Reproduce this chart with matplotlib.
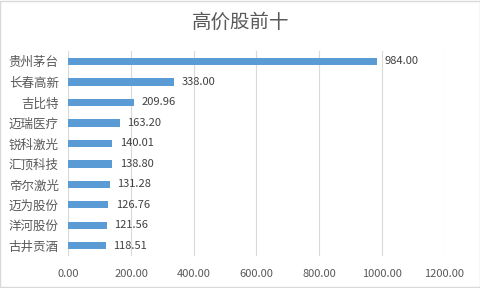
import matplotlib.pyplot as plt
from matplotlib.patches import Rectangle

plt.rcParams['font.family'] = ['Noto Sans CJK SC', 'DejaVu Sans']

stocks = ['贵州茅台', '长春高新', '吉比特', '迈瑞医疗', '锐科激光',
          '汇顶科技', '帝尔激光', '迈为股份', '洋河股份', '古井贡酒']
prices = [984.00, 338.00, 209.96, 163.20, 140.01,
          138.80, 131.28, 126.76, 121.56, 118.51]
xticks = [0, 200, 400, 600, 800, 1000, 1200]

fig = plt.figure(figsize=(4.81, 2.88), dpi=100)
ax = fig.add_axes([0.1424, 0.111, 0.7817, 0.7115])

ypos = list(range(len(stocks)))
ax.barh(ypos, prices, height=0.36, color='#5B9BD5', zorder=3)
for y, v in zip(ypos, prices):
    ax.annotate(f'{v:.2f}', (v, y), xytext=(5.5, 0), textcoords='offset points',
                va='center', ha='left', fontsize=8, color='#404040')

ax.set_xlim(0, 1200)
ax.set_ylim(len(stocks) - 0.5, -0.5)
ax.set_xticks(xticks)
ax.set_xticklabels([f'{t:.2f}' for t in xticks])
ax.set_yticks(ypos)
ax.set_yticklabels(stocks, fontsize=9)
ax.tick_params(axis='both', length=0, colors='#595959')
ax.tick_params(axis='x', pad=9, labelsize=8)
ax.tick_params(axis='y', pad=7)
ax.grid(axis='x', color='#D9D9D9', linewidth=0.8, zorder=0)
for s in ax.spines.values():
    s.set_visible(False)

fig.text(0.5, 0.922, '高价股前十', ha='center', va='center', fontsize=14, color='#595959')
fig.patches.append(Rectangle((0.001, 0.002), 0.997, 0.995, transform=fig.transFigure,
                             fill=False, edgecolor='#D9D9D9', linewidth=1))

fig.savefig('out.png', dpi=100)
